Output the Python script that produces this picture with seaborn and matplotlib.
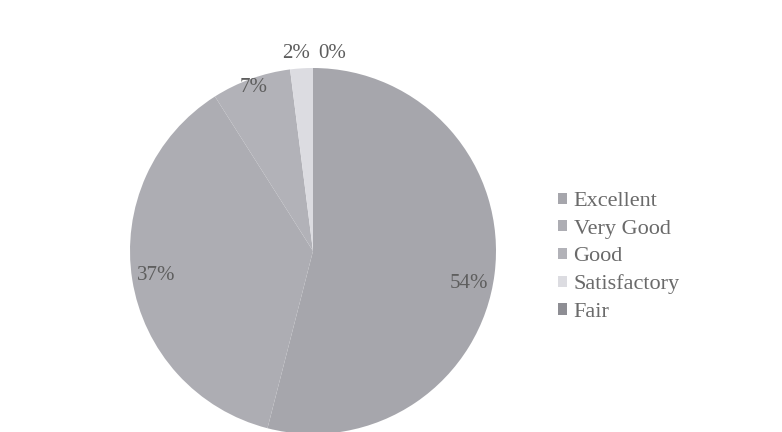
import matplotlib.pyplot as plt
import seaborn as sns
import numpy as np

# Data
categories = ['Excellent', 'Very Good', 'Good', 'Satisfactory', 'Fair']
shares = [54, 37, 7, 2, 0]
pct_labels = ['54%', '37%', '7%', '2%', '0%']

sns.set_theme(style="white")
plt.rcParams['font.family'] = ['Liberation Serif', 'DejaVu Serif']

colors = ['#a6a6ac', '#adadb3', '#b2b2b8', '#dcdce1', '#8e8e94']
label_dist = [0.86, 0.87, 0.95, 1.08, 1.08]
label_ha = ['center', 'center', 'center', 'right', 'left']
label_dx = [0.0, 0.0, 0.0, 0.05, 0.03]
label_dy = [-0.07, 0.0, 0.0, 0.0, 0.0]

fig = plt.figure(figsize=(7.82, 4.32), dpi=100)
# pie centre ~ (313, 251) px, radius ~183 px
ax = fig.add_axes([130 / 782, -2 / 432, 366 / 782, 366 / 432])

wedges, _ = ax.pie(shares, colors=colors, startangle=90, counterclock=False,
                   radius=1, frame=True,
                   wedgeprops=dict(edgecolor='none', linewidth=0))
ax.set_xlim(-1, 1)
ax.set_ylim(-1, 1)
ax.set_aspect('auto')
ax.axis('off')

for w, lab, r, ha, dx, dy in zip(wedges, pct_labels, label_dist, label_ha,
                                 label_dx, label_dy):
    mid = np.deg2rad((w.theta1 + w.theta2) / 2)
    x = r * np.cos(mid) + dx
    y = r * np.sin(mid) + dy
    ax.text(x, y, lab, ha=ha, va='center', fontsize=15, color='#5e5e5e',
            clip_on=False)

leg = ax.legend(wedges, categories, loc='center left',
                bbox_to_anchor=(0.688, 0.405), bbox_transform=fig.transFigure,
                frameon=False, fontsize=16, handlelength=0.4, handleheight=0.4,
                handletextpad=0.3, labelspacing=0.38)
for t in leg.get_texts():
    t.set_color('#6a6a6a')
for h in leg.legend_handles:
    h.set_edgecolor('none')

fig.savefig('out.png', dpi=100)
